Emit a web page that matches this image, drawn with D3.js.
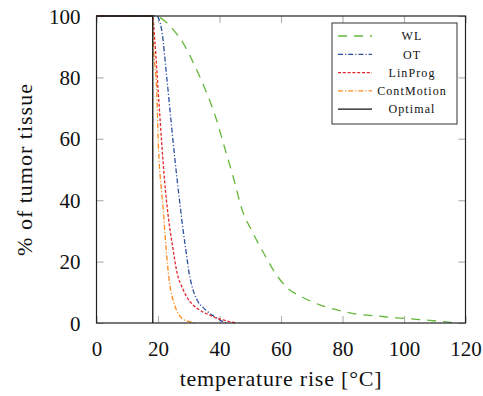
<!DOCTYPE html>
<html>
<head>
<meta charset="utf-8">
<script src="https://cdn.jsdelivr.net/npm/d3@7"></script>
<style>
  body { margin: 0; background: white; }
  svg text { font-family: "Liberation Serif", "Times New Roman", serif !important; fill: #111; }
</style>
</head>
<body>
<div id="chart"></div>
<script>
// temperature rise [°C] vs % of tumor tissue
const wlT = [0, 19, 20, 22, 25, 28, 30.4, 33, 35.8, 39, 41.2, 44.4, 47.7, 50, 52, 55.3, 58.5, 62, 67, 72.6, 78.5, 84.5, 91, 97.5, 104, 110.5, 116, 118];
const wlP = [100, 100, 99.8, 98.5, 95.5, 91.5, 87, 81.5, 75, 66.3, 58.7, 47.8, 35.8, 31, 27.1, 21.1, 15.7, 11.5, 8.4, 5.9, 4.2, 2.9, 2.3, 1.7, 1.2, 0.65, 0.1, 0];

const otT = [0, 19.5, 20.3, 21.2, 22.8, 24.4, 25.5, 27.1, 28.2, 29.3, 30, 31.4, 33, 34.7, 35.8, 37.9, 40.1, 41.2, 42.5];
const otP = [100, 100, 99, 95.4, 80.5, 64.2, 53.3, 39, 30, 22, 17, 10.8, 7, 5, 4, 2.4, 1, 0.4, 0];

const lpT = [0, 18.2, 19, 20.1, 21.2, 22.2, 23.3, 24.9, 26, 28.2, 29.3, 31.5, 33.6, 37.9, 39, 41.2, 43.5, 45.5];
const lpP = [100, 100, 91.4, 75, 58.7, 45.6, 35, 24, 17.3, 10.8, 8.6, 5.8, 4.2, 2.1, 1.6, 1, 0.4, 0];

const cmT = [0, 18.2, 18.5, 19.6, 20.1, 21.2, 21.7, 22.5, 23.9, 24.9, 26, 28.2, 30, 32];
const cmP = [100, 100, 91.4, 75, 58.7, 42.4, 37, 26, 11.9, 7.5, 4.2, 1.2, 0.5, 0];

const optT = [0, 18.3, 18.3];
const optP = [100, 100, 0];

const seriesNames = ["WL", "OT", "LinProg", "ContMotion", "Optimal"];
const xTicks = [0, 20, 40, 60, 80, 100, 120];
const yTicks = [0, 20, 40, 60, 80, 100];

const w = 483, h = 396;
const padL = 96.5, padR = 465.5, padT = 16, padB = 323;

const svg = d3.select("#chart").append("svg")
  .attr("width", w)
  .attr("height", h);

const x = d3.scaleLinear().domain([0, 120]).range([padL, padR]);
const y = d3.scaleLinear().domain([0, 100]).range([padB, padT]);

const tickColor = "#b4b4b4";

// inner ticks on all four sides
const xAxisB = svg.append("g")
  .attr("transform", "translate(0," + padB + ")")
  .call(d3.axisBottom(x).tickValues(xTicks).tickSize(-7).tickFormat(d3.format("d")));
xAxisB.selectAll("text").attr("y", 33).attr("dy", 0);

svg.append("g")
  .attr("transform", "translate(0," + padT + ")")
  .call(d3.axisTop(x).tickValues(xTicks).tickSize(-7).tickFormat(""));

const yAxisL = svg.append("g")
  .attr("transform", "translate(" + padL + ",0)")
  .call(d3.axisLeft(y).tickValues(yTicks).tickSize(-7).tickFormat(d3.format("d")));
yAxisL.selectAll("text").attr("x", -16).attr("dy", "0.34em");

svg.append("g")
  .attr("transform", "translate(" + padR + ",0)")
  .call(d3.axisRight(y).tickValues(yTicks).tickSize(-7).tickFormat(""));

svg.selectAll("g").attr("font-family", null);
svg.selectAll(".domain").remove();
svg.selectAll(".tick line").attr("stroke", tickColor).attr("stroke-width", 1.2);
svg.selectAll(".tick text")
  .style("font-size", "21px")
  .attr("fill", "#111");

const line = d3.line()
  .x(d => x(d[0]))
  .y(d => y(d[1]))
  .curve(d3.curveMonotoneX);

const straight = d3.line()
  .x(d => x(d[0]))
  .y(d => y(d[1]));

const series = [
  { t: wlT, p: wlP, color: "#63b83a", dash: "9,7", curve: line },
  { t: otT, p: otP, color: "#2f4f9f", dash: "5,2,1.2,2", curve: line },
  { t: lpT, p: lpP, color: "#e3262d", dash: "3,1.8", curve: line },
  { t: cmT, p: cmP, color: "#ff8a1c", dash: "5,2,1.2,2", curve: line },
  { t: optT, p: optP, color: "#111", dash: null, curve: straight }
];

series.forEach(s => {
  svg.append("path")
    .datum(s.t.map((t, i) => [t, s.p[i]]))
    .attr("d", s.curve)
    .attr("fill", "none")
    .attr("stroke", s.color)
    .attr("stroke-width", 1.3)
    .attr("stroke-dasharray", s.dash);
});

// frame
svg.append("rect")
  .attr("x", padL)
  .attr("y", padT)
  .attr("width", padR - padL)
  .attr("height", padB - padT)
  .attr("fill", "none")
  .attr("stroke", "#222")
  .attr("stroke-width", 1.2);

// legend
const lg = svg.append("g");
lg.append("rect")
  .attr("x", 332)
  .attr("y", 23)
  .attr("width", 125)
  .attr("height", 101)
  .attr("fill", "white")
  .attr("stroke", "#333")
  .attr("stroke-width", 1);

series.forEach((s, i) => {
  const ly = 36 + i * 18.3;
  lg.append("line")
    .attr("x1", 338).attr("x2", 372)
    .attr("y1", ly).attr("y2", ly)
    .attr("stroke", s.color)
    .attr("stroke-width", 1.3)
    .attr("stroke-dasharray", s.dash);
  lg.append("text")
    .attr("x", 412)
    .attr("y", ly)
    .attr("dy", "0.35em")
    .attr("text-anchor", "middle")
    .style("font-size", "12px")
    .style("letter-spacing", "1.1px")
    .text(seriesNames[i]);
});

// axis titles
svg.append("text")
  .attr("x", (padL + padR) / 2)
  .attr("y", 386)
  .attr("text-anchor", "middle")
  .style("font-size", "22px")
  .style("letter-spacing", "0.8px")
  .text("temperature rise [°C]");

svg.append("text")
  .attr("transform", "translate(32," + ((padT + padB) / 2) + ") rotate(-90)")
  .attr("text-anchor", "middle")
  .style("font-size", "22px")
  .style("letter-spacing", "1px")
  .text("% of tumor tissue");
</script>
</body>
</html>
